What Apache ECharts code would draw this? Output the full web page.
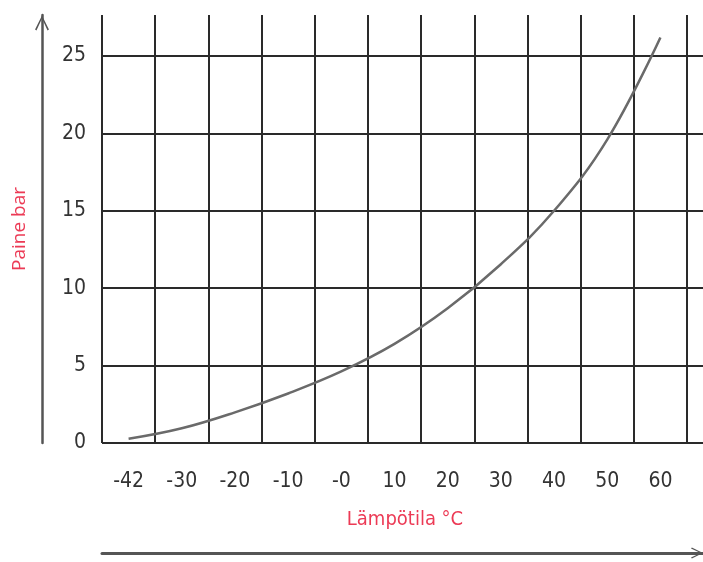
<!DOCTYPE html>
<html>
<head>
<meta charset="utf-8">
<script src="https://cdn.jsdelivr.net/npm/echarts@6/dist/echarts.min.js"></script>
<style>
html,body{margin:0;padding:0;background:#fff;}
#chart{width:703px;height:562px;}
</style>
</head>
<body>
<div id="chart"></div>
<script>
// Temperature labels (°C) shown under each column
const temperatureLabels = ['-42', '-30', '-20', '-10', '-0', '10', '20', '30', '40', '50', '60'];
// Pressure (bar) at each label position
const pressureBar = [0.27, 0.95, 1.98, 3.2, 4.62, 6.4, 8.7, 11.55, 15.0, 19.6, 26.2];
// Y tick values
const pressureTicks = [0, 5, 10, 15, 20, 25];
const xName = 'Lämpötila °C';
const yName = 'Paine bar';

const numFont = '"Liberation Sans Narrow", "DejaVu Sans Condensed", "Roboto Condensed", sans-serif';
const red = '#ec3a55';
const gridColor = '#2a2a2a';
const chevron = 'path://M0,10 L5,0 L10,10 L9,10.8 L5,2.2 L1,10.8 Z';
const yMax = 27.65;

const chart = echarts.init(document.getElementById('chart'), null, {renderer: 'canvas'});
chart.setOption({
  animation: false,
  backgroundColor: '#ffffff',
  grid: [
    {left: 102, top: 15, height: 428, width: 585, containLabel: false},
    {left: 102, top: 15, height: 428, right: 0, containLabel: false}
  ],
  xAxis: [{
    gridIndex: 0,
    type: 'category',
    data: temperatureLabels,
    boundaryGap: true,
    axisLine: {show: false},
    axisTick: {show: false},
    axisLabel: {interval: 0, margin: 28, color: '#333', fontSize: 21, fontFamily: numFont},
    splitLine: {show: true, interval: 0, lineStyle: {color: gridColor, width: 2}},
    name: xName,
    nameLocation: 'middle',
    nameGap: 67,
    nameTextStyle: {color: red, fontSize: 20, fontFamily: numFont, padding: [0, 0, 0, 21]}
  }, {
    gridIndex: 1,
    type: 'value',
    position: 'bottom',
    offset: 110,
    min: 0, max: 1,
    axisLine: {show: true, onZero: false, lineStyle: {color: '#555', width: 3}, symbol: ['none', chevron], symbolSize: [14, 12], symbolOffset: [0, -6]},
    axisTick: {show: false},
    axisLabel: {show: false},
    splitLine: {show: false}
  }],
  yAxis: [{
    gridIndex: 0,
    type: 'value',
    min: 0,
    max: yMax,
    interval: 5,
    axisLine: {show: false},
    axisTick: {show: false},
    axisLabel: {
      margin: 16, color: '#333', fontSize: 21, fontFamily: numFont,
      showMaxLabel: false,
      formatter: function (v) { return pressureTicks.indexOf(v) >= 0 ? String(v) : ''; }
    },
    splitLine: {show: false}
  }, {
    gridIndex: 1,
    type: 'value',
    min: 0,
    max: yMax,
    interval: 5,
    axisLine: {show: false},
    axisTick: {show: false},
    axisLabel: {show: false},
    splitLine: {show: true, showMaxLine: false, lineStyle: {color: gridColor, width: 2}}
  }, {
    gridIndex: 1,
    type: 'value',
    position: 'left',
    offset: 60,
    min: 0, max: 1,
    axisLine: {show: true, onZero: false, lineStyle: {color: '#555', width: 2.5}, symbol: ['none', chevron], symbolSize: [18, 15], symbolOffset: [0, -8]},
    axisTick: {show: false},
    axisLabel: {show: false},
    splitLine: {show: false},
    name: yName,
    nameLocation: 'middle',
    nameGap: 13,
    nameTextStyle: {color: red, fontSize: 19, fontFamily: '"Open Sans", "Noto Sans", sans-serif'}
  }],
  series: [{
    type: 'line',
    xAxisIndex: 0,
    yAxisIndex: 0,
    data: pressureBar,
    smooth: 0.4,
    symbol: 'none',
    lineStyle: {color: '#6a6a6a', width: 2.5},
    z: 5
  }]
});
</script>
</body>
</html>
